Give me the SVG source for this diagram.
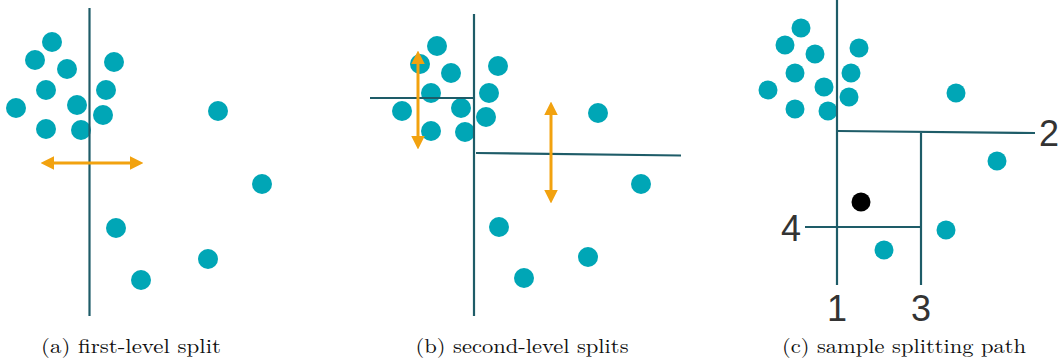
<svg xmlns="http://www.w3.org/2000/svg" width="1063" height="363" viewBox="0 0 1063 363">
<defs>
<style>
.dot{fill:#00a6b6}
.sm{fill:#00a6b6}
.ln{stroke:#1e5c68;stroke-width:2.2;fill:none}
.arr{stroke:#f2a20f;stroke-width:3;fill:none;marker-start:url(#ah);marker-end:url(#ah)}
.num{font-family:"Liberation Sans",Arial,sans-serif;font-size:36px;fill:#333;text-anchor:middle}
.cap{font-family:"Latin Modern Roman","DejaVu Serif","Liberation Serif",serif;font-size:20px;fill:#111;text-anchor:middle}
</style>
<marker id="ah" viewBox="0 0 10 10" refX="3" refY="5" markerWidth="4.5" markerHeight="4.5" orient="auto-start-reverse">
<path d="M0,0 L10,5 L0,10 z" fill="#f2a20f"/>
</marker>
</defs>

<g id="panel-a">
<g id="a-points">
<circle class="dot" cx="52" cy="42" r="10"/>
<circle class="dot" cx="35" cy="60" r="10"/>
<circle class="dot" cx="67" cy="69" r="10"/>
<circle class="dot" cx="114" cy="62" r="10"/>
<circle class="dot" cx="46" cy="90" r="10"/>
<circle class="dot" cx="106" cy="90" r="10"/>
<circle class="dot" cx="16" cy="108" r="10"/>
<circle class="dot" cx="77" cy="105" r="10"/>
<circle class="dot" cx="103" cy="115" r="10"/>
<circle class="dot" cx="46" cy="129" r="10"/>
<circle class="dot" cx="81" cy="130" r="10"/>
<circle class="dot" cx="218" cy="111" r="10"/>
<circle class="dot" cx="262" cy="184" r="10"/>
<circle class="dot" cx="116" cy="228" r="10"/>
<circle class="dot" cx="208" cy="259" r="10"/>
<circle class="dot" cx="141" cy="280" r="10"/>
</g>
<g id="a-connectors">
<line class="ln" x1="89.5" y1="8" x2="89.5" y2="316"/>
<line class="arr" x1="50" y1="163" x2="134" y2="163"/>
</g>
</g>

<g id="panel-b">
<g id="b-points">
<circle class="dot" cx="437" cy="46" r="10"/>
<circle class="dot" cx="420" cy="64" r="10"/>
<circle class="dot" cx="451" cy="73" r="10"/>
<circle class="dot" cx="498" cy="66" r="10"/>
<circle class="dot" cx="431" cy="93" r="10"/>
<circle class="dot" cx="489" cy="93" r="10"/>
<circle class="dot" cx="402" cy="111" r="10"/>
<circle class="dot" cx="461" cy="108" r="10"/>
<circle class="dot" cx="486" cy="117" r="10"/>
<circle class="dot" cx="431" cy="131" r="10"/>
<circle class="dot" cx="465" cy="132" r="10"/>
<circle class="dot" cx="598" cy="113" r="10"/>
<circle class="dot" cx="641" cy="184" r="10"/>
<circle class="dot" cx="499" cy="227" r="10"/>
<circle class="dot" cx="588" cy="257" r="10"/>
<circle class="dot" cx="524" cy="278" r="10"/>
</g>
<g id="b-connectors">
<line class="ln" x1="474" y1="14" x2="474" y2="316"/>
<line class="ln" x1="370" y1="98" x2="474" y2="98"/>
<line class="ln" x1="476" y1="153" x2="681" y2="155.5"/>
<line class="arr" x1="418" y1="60" x2="418" y2="140"/>
<line class="arr" x1="551" y1="111" x2="551" y2="194"/>
</g>
</g>

<g id="panel-c">
<g id="c-points">
<circle class="sm" cx="801" cy="28" r="9.5"/>
<circle class="sm" cx="785" cy="45" r="9.5"/>
<circle class="sm" cx="815" cy="54" r="9.5"/>
<circle class="sm" cx="859" cy="48" r="9.5"/>
<circle class="sm" cx="795" cy="73" r="9.5"/>
<circle class="sm" cx="851" cy="73" r="9.5"/>
<circle class="sm" cx="768" cy="90" r="9.5"/>
<circle class="sm" cx="824" cy="87" r="9.5"/>
<circle class="sm" cx="849" cy="97" r="9.5"/>
<circle class="sm" cx="795" cy="109" r="9.5"/>
<circle class="sm" cx="828" cy="111" r="9.5"/>
<circle class="sm" cx="956" cy="93" r="9.5"/>
<circle class="sm" cx="997" cy="161" r="9.5"/>
<circle class="sm" cx="946" cy="230" r="9.5"/>
<circle class="sm" cx="884" cy="250" r="9.5"/>
<circle cx="861" cy="202" r="9.5" fill="#000"/>
</g>
<g id="c-connectors">
<line class="ln" x1="837" y1="0" x2="837" y2="285"/>
<line class="ln" x1="838" y1="131" x2="1035" y2="133"/>
<line class="ln" x1="921" y1="133" x2="921" y2="285"/>
<line class="ln" x1="805" y1="227" x2="921" y2="227"/>
</g>
<g id="c-labels">
<text class="num" x="837" y="321">1</text>
<text class="num" x="1049" y="146">2</text>
<text class="num" x="921" y="321">3</text>
<text class="num" x="791" y="241">4</text>
</g>
</g>

<g id="captions">
<text class="cap" x="131" y="353" textLength="180" lengthAdjust="spacingAndGlyphs">(a) first-level split</text>
<text class="cap" x="522" y="353" textLength="213" lengthAdjust="spacingAndGlyphs">(b) second-level splits</text>
<text class="cap" x="904" y="353" textLength="244" lengthAdjust="spacingAndGlyphs">(c) sample splitting path</text>
</g>
</svg>
